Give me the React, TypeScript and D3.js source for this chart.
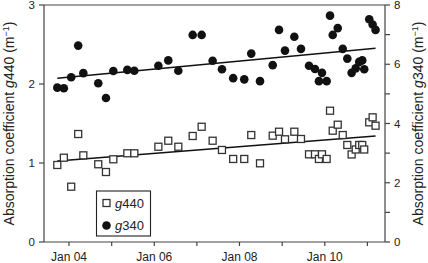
import React from "react";
import * as d3 from "d3";

const dates = [
  "2003-09-23", "2003-11-18", "2004-01-20", "2004-03-20", "2004-05-03",
  "2004-09-08", "2004-11-13", "2005-01-15", "2005-05-15", "2005-07-14",
  "2006-02-05", "2006-05-01", "2006-07-26", "2006-11-26", "2007-02-11",
  "2007-05-16", "2007-08-04", "2007-11-08", "2008-02-11", "2008-04-11",
  "2008-06-25", "2008-10-12", "2008-12-05", "2009-01-25", "2009-04-15",
  "2009-06-11", "2009-08-19", "2009-10-09", "2009-11-12", "2009-12-08",
  "2010-01-17", "2010-02-15", "2010-03-10", "2010-04-22", "2010-06-04",
  "2010-07-13", "2010-08-19", "2010-09-23", "2010-10-23", "2010-11-18",
  "2010-12-05", "2011-01-17", "2011-02-15", "2011-03-12",
];

const g340 = [
  5.21, 5.19, 5.56, 6.63, 5.70, 5.36, 4.86, 5.77, 5.81, 5.78,
  5.95, 6.13, 5.78, 6.99, 6.99, 6.12, 5.83, 5.53, 5.49, 6.36,
  5.43, 5.97, 7.16, 6.46, 6.93, 6.52, 5.95, 5.84, 5.43, 5.71,
  5.43, 7.64, 6.99, 7.22, 6.52, 6.19, 5.71, 5.86, 6.08, 6.13,
  5.83, 7.52, 7.34, 7.16,
];

const g440 = [
  0.975, 1.067, 0.70, 1.367, 1.097, 0.984, 0.886, 1.047, 1.123, 1.123,
  1.206, 1.282, 1.206, 1.342, 1.459, 1.282, 1.165, 1.051, 1.051, 1.354,
  0.996, 1.346, 1.396, 1.30, 1.396, 1.304, 1.110, 1.110, 1.051, 1.110,
  1.051, 1.662, 1.409, 1.485, 1.354, 1.228, 1.108, 1.171, 1.228, 1.228,
  1.171, 1.515, 1.578, 1.472,
];

const trendDates = ["2003-09-23", "2011-03-12"];
const trend340 = [5.53, 6.54];
const trend440 = [1.025, 1.342];

const leftTicks = [0, 1, 2, 3];
const rightTicks = [0, 1, 2, 3, 4, 5, 6, 7, 8];
const rightLabels = [0, 2, 4, 6, 8];
const xTickYears = [2004, 2005, 2006, 2007, 2008, 2009, 2010, 2011];
const xLabelYears = [2004, 2006, 2008, 2010];

const W = 428;
const H = 263;
const L = 44;
const R = 385;
const T = 5;
const B = 242;
const FONT = "'Liberation Sans', Arial, Helvetica, sans-serif";
const AX = "#444";

export default function App() {
  const parse = d3.timeParse("%Y-%m-%d");
  const x = d3
    .scaleTime()
    .domain([new Date(2003, 5, 1), new Date(2011, 5, 1)])
    .range([L, R]);
  const yL = d3.scaleLinear().domain([0, 3]).range([B, T]);
  const yR = d3.scaleLinear().domain([0, 8]).range([B, T]);
  const pts = dates.map((d, i) => ({ t: parse(d) as Date, a: g440[i], b: g340[i] }));
  const tdates = trendDates.map((d) => parse(d) as Date);
  const line440 = d3
    .line<number>()
    .x((_, i) => x(tdates[i]))
    .y((v) => yL(v));
  const line340 = d3
    .line<number>()
    .x((_, i) => x(tdates[i]))
    .y((v) => yR(v));
  const fmt = d3.timeFormat("Jan %y");
  const sq = 7;

  return (
    <svg
      width={W}
      height={H}
      style={{ position: "absolute", left: 0, top: 0, background: "#fff" }}
      fontFamily={FONT}
    >
      {/* frame */}
      <line x1={L} x2={R} y1={T} y2={T} stroke={AX} strokeWidth={1.2} />
      <line x1={L} x2={L} y1={T} y2={B} stroke={AX} strokeWidth={1.2} />
      <line x1={R} x2={R} y1={T} y2={B} stroke={AX} strokeWidth={1.2} />
      <line x1={L} x2={R} y1={B} y2={B} stroke={AX} strokeWidth={1.2} />

      {/* left axis */}
      {leftTicks.map((v) => (
        <g key={"l" + v}>
          <line x1={L - 5} x2={L} y1={yL(v)} y2={yL(v)} stroke={AX} strokeWidth={1.2} />
          <text x={L - 9} y={yL(v)} dy="0.36em" textAnchor="end" fontSize={11.5} fill="#222">
            {v}
          </text>
        </g>
      ))}

      {/* right axis */}
      {rightTicks.map((v) => (
        <line key={"r" + v} x1={R} x2={R + 5} y1={yR(v)} y2={yR(v)} stroke={AX} strokeWidth={1.2} />
      ))}
      {rightLabels.map((v) => (
        <text key={"rl" + v} x={R + 9} y={yR(v)} dy="0.36em" textAnchor="start" fontSize={11.5} fill="#222">
          {v}
        </text>
      ))}

      {/* bottom axis */}
      {xTickYears.map((yr) => (
        <line
          key={"x" + yr}
          x1={x(new Date(yr, 0, 1))}
          x2={x(new Date(yr, 0, 1))}
          y1={B}
          y2={B + 4}
          stroke={AX}
          strokeWidth={1.2}
        />
      ))}
      {xLabelYears.map((yr) => (
        <text key={"xl" + yr} x={x(new Date(yr, 0, 1))} y={261} textAnchor="middle" fontSize={12} fill="#222">
          {fmt(new Date(yr, 0, 1))}
        </text>
      ))}

      {/* axis titles */}
      <text transform={`translate(14,${(T + B) / 2}) rotate(-90)`} textAnchor="middle" fontSize={14} fill="#222">
        Absorption coefficient <tspan fontStyle="italic">g</tspan>440 (m
        <tspan dy={-5} fontSize={9}>−1</tspan>
        <tspan dy={5}>)</tspan>
      </text>
      <text transform={`translate(423,${(T + B) / 2}) rotate(-90)`} textAnchor="middle" fontSize={14} fill="#222">
        Absorption coefficient <tspan fontStyle="italic">g</tspan>340 (m
        <tspan dy={-5} fontSize={9}>−1</tspan>
        <tspan dy={5}>)</tspan>
      </text>

      {/* trend lines */}
      <path d={line440(trend440) || ""} fill="none" stroke="#111" strokeWidth={1.6} />
      <path d={line340(trend340) || ""} fill="none" stroke="#111" strokeWidth={1.6} />

      {/* g440 squares */}
      {pts.map((p, i) => (
        <rect
          key={"s" + i}
          x={x(p.t) - sq / 2}
          y={yL(p.a) - sq / 2}
          width={sq}
          height={sq}
          fill="#fff"
          stroke="#333"
          strokeWidth={1.3}
        />
      ))}

      {/* g340 circles */}
      {pts.map((p, i) => (
        <circle key={"c" + i} cx={x(p.t)} cy={yR(p.b)} r={4.3} fill="#111" />
      ))}

      {/* legend */}
      <rect x={96.5} y={191} width={54} height={45} fill="#fff" stroke="#222" strokeWidth={1.1} />
      <rect x={106.5 - 3.5} y={203 - 3.5} width={7} height={7} fill="#fff" stroke="#333" strokeWidth={1.3} />
      <text x={115} y={203} dy="0.36em" fontSize={13} fill="#222">
        <tspan fontStyle="italic">g</tspan>440
      </text>
      <circle cx={106.5} cy={225.5} r={4.3} fill="#111" />
      <text x={115} y={225.5} dy="0.36em" fontSize={13} fill="#222">
        <tspan fontStyle="italic">g</tspan>340
      </text>
    </svg>
  );
}
